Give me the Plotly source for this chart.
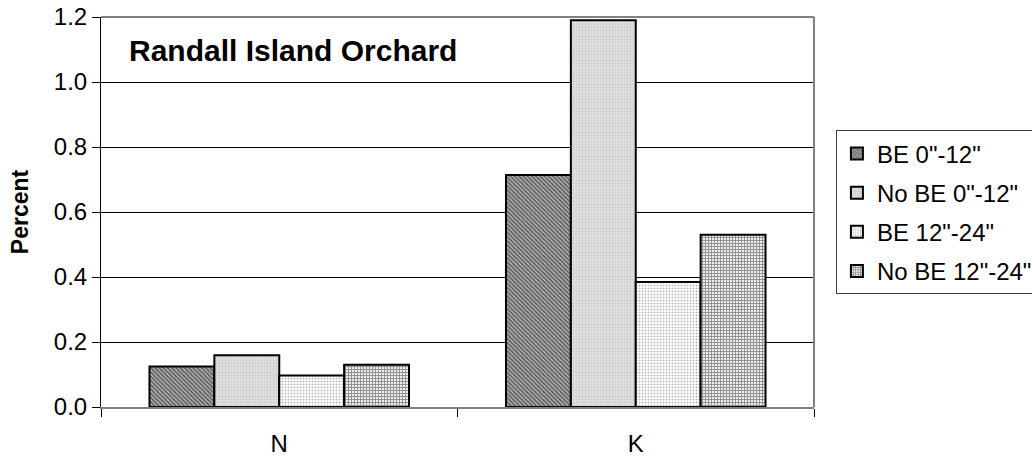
import plotly.graph_objects as go

# Soil nutrient levels by depth and treatment
categories = ["N", "K"]
series_names = ['BE 0"-12"', 'No BE 0"-12"', 'BE 12"-24"', 'No BE 12"-24"']
be_0_12 = [0.125, 0.714]
no_be_0_12 = [0.159, 1.19]
be_12_24 = [0.097, 0.385]
no_be_12_24 = [0.13, 0.53]
y_ticks = [0.0, 0.2, 0.4, 0.6, 0.8, 1.0, 1.2]

series_values = [be_0_12, no_be_0_12, be_12_24, no_be_12_24]

# Monochrome fill patterns, one per series
patterns = [
    dict(shape="\\", fgcolor="#000000", bgcolor="#b8b8b8", size=3, solidity=0.55),
    dict(shape=".", fgcolor="#b4b4b4", bgcolor="#e4e4e4", size=3, solidity=0.45),
    dict(shape=".", fgcolor="#7a7a7a", bgcolor="#ffffff", size=3, solidity=0.35),
    dict(shape="+", fgcolor="#303030", bgcolor="#f4f4f4", size=3, solidity=0.6),
]

FONT = "Liberation Sans, Arial, sans-serif"

fig = go.Figure()
for name, vals, pat in zip(series_names, series_values, patterns):
    fig.add_trace(go.Bar(
        x=categories,
        y=vals,
        name=name,
        legendgroup=name,
        marker=dict(color=pat["bgcolor"], pattern=pat,
                    line=dict(color="#000000", width=2)),
    ))

fig.update_layout(
    width=1032,
    height=459,
    margin=dict(l=101, r=218, t=17, b=52, autoexpand=False),
    paper_bgcolor="#ffffff",
    plot_bgcolor="#ffffff",
    barmode="group",
    bargap=0.272,
    bargroupgap=0,
    font=dict(family=FONT, size=24, color="#000000"),
    legend=dict(
        xref="container", yref="container",
        x=0.81, y=0.716, xanchor="left", yanchor="top",
        bordercolor="#404040", borderwidth=1,
        font=dict(family=FONT, size=24, color="#000000"),
        tracegroupgap=5,
        itemwidth=30,
    ),
    showlegend=True,
)

fig.update_xaxes(
    showline=True, linecolor="#808080", linewidth=2,
    mirror=False, automargin=False,
    ticks="outside", tickson="boundaries", ticklen=8, tickcolor="#000000",
    tickfont=dict(family=FONT, size=24),
    ticklabelstandoff=14,
    showgrid=False,
)

fig.update_yaxes(
    range=[0, 1.2],
    tickvals=y_ticks,
    tickformat=".1f",
    showline=True, linecolor="#000000", linewidth=1,
    automargin=False,
    ticks="outside", ticklen=8, tickcolor="#000000",
    tickfont=dict(family=FONT, size=24),
    showgrid=True, gridcolor="#000000", gridwidth=1,
    zeroline=False,
    title=dict(text="<b>Percent</b>", font=dict(family=FONT, size=23), standoff=18),
)

# Gray frame on the top and right sides of the plot area
fig.add_shape(type="line", xref="paper", yref="paper", x0=0, x1=1, y0=1, y1=1,
              line=dict(color="#808080", width=2))
fig.add_shape(type="line", xref="paper", yref="paper", x0=1, x1=1, y0=0, y1=1,
              line=dict(color="#808080", width=2))

fig.add_annotation(
    text="<b>Randall Island Orchard</b>",
    xref="paper", yref="paper", x=0.036, y=0.913,
    xanchor="left", yanchor="middle", showarrow=False,
    font=dict(family=FONT, size=30, color="#000000"),
)

fig.write_html("out.html")
